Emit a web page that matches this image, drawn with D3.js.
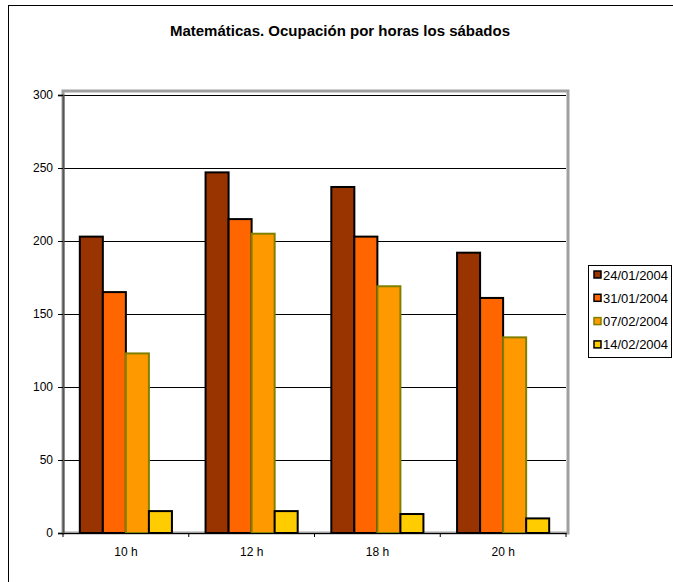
<!DOCTYPE html>
<html>
<head>
<meta charset="utf-8">
<script src="https://cdn.jsdelivr.net/npm/d3@7"></script>
<style>
	body { margin: 0; background: #fff; }
	text { font-family: "Liberation Sans", Arial, sans-serif; }
</style>
</head>
<body>
<div id="chart"></div>
<script>
//Chart data
	var hours = ["10 h", "12 h", "18 h", "20 h"];
	var dates = ["24/01/2004", "31/01/2004", "07/02/2004", "14/02/2004"];
	var sat24Jan = [203, 247, 237, 192];
	var sat31Jan = [165, 215, 203, 161];
	var sat07Feb = [123, 205, 169, 134];
	var sat14Feb = [15, 15, 13, 10];
	var yTicks = [0, 50, 100, 150, 200, 250, 300];

	var seriesValues = [sat24Jan, sat31Jan, sat07Feb, sat14Feb];
	var fills = ["#993300", "#FF6600", "#FF9900", "#FFCC00"];
	var strokes = ["#000", "#000", "#808000", "#000"];

	var W = 673, H = 582;
	var margin = {top: 95, left: 63, right: 107, bottom: 49};
	var w = W - margin.left - margin.right,
		h = H - margin.top - margin.bottom;

	var svg = d3.select("#chart").append("svg")
		.attr("width", W)
		.attr("height", H);

	//Outer chart frame (cropped at right and bottom)
	svg.append("rect")
		.attr("x", 8.5).attr("y", 5.5)
		.attr("width", W + 20).attr("height", H + 20)
		.attr("fill", "none").attr("stroke", "#000").attr("stroke-width", 1);

	//Title
	svg.append("text")
		.attr("x", 340).attr("y", 36)
		.attr("text-anchor", "middle")
		.style("font-size", "15px").style("font-weight", "bold")
		.text("Matemáticas. Ocupación por horas los sábados");

	var g = svg.append("g")
		.attr("transform", "translate(" + margin.left + "," + margin.top + ")");

	var x0 = d3.scaleBand().domain(hours).range([0, w]).paddingInner(0).paddingOuter(0);
	var x1 = d3.scaleBand().domain(d3.range(dates.length))
		.range([0, x0.bandwidth()]).paddingInner(0).paddingOuter(0.73);
	var y = d3.scaleLinear().domain([0, 300]).range([h, 0]);

	//Plot area grey frame
	g.append("rect")
		.attr("x", 0).attr("y", -4)
		.attr("width", w + 2).attr("height", h + 4)
		.attr("fill", "none").attr("stroke", "#a0a0a0").attr("stroke-width", 3);

	//Gridlines
	g.append("g").selectAll("line")
		.data(yTicks.filter(function(d) { return d > 0; }))
		.enter().append("line")
		.attr("x1", 0).attr("x2", w)
		.attr("y1", function(d) { return Math.round(y(d)) + 0.5; })
		.attr("y2", function(d) { return Math.round(y(d)) + 0.5; })
		.attr("stroke", "#000").attr("stroke-width", 1);

	//Bars
	var groups = g.append("g").selectAll("g")
		.data(hours)
		.enter().append("g")
		.attr("transform", function(d) { return "translate(" + x0(d) + ",0)"; });

	groups.selectAll("rect")
		.data(function(d, i) { return seriesValues.map(function(s, j) { return {s: j, v: s[i]}; }); })
		.enter().append("rect")
		.attr("x", function(d) { return x1(d.s); })
		.attr("y", function(d) { return y(d.v); })
		.attr("width", x1.bandwidth())
		.attr("height", function(d) { return h - y(d.v); })
		.attr("fill", function(d) { return fills[d.s]; })
		.attr("stroke", function(d) { return strokes[d.s]; })
		.attr("stroke-width", 2);

	//Y axis
	var yAxis = g.append("g")
		.call(d3.axisLeft(y).tickValues(yTicks).tickSize(5).tickPadding(5));
	yAxis.select(".domain").attr("stroke", "#555").attr("stroke-width", 2);
	yAxis.selectAll("text").style("font-size", "12px").attr("fill", "#000")
		.style("font-family", "'Liberation Sans', Arial, sans-serif");

	//X axis
	var xAxis = g.append("g")
		.attr("transform", "translate(0," + h + ")")
		.call(d3.axisBottom(x0).tickSize(0).tickPadding(14));
	xAxis.select(".domain").attr("stroke", "#000").attr("stroke-width", 1);
	xAxis.selectAll("text").style("font-size", "12px").attr("fill", "#000")
		.style("font-family", "'Liberation Sans', Arial, sans-serif");
	xAxis.selectAll(".sep")
		.data(d3.range(hours.length + 1))
		.enter().append("line")
		.attr("x1", function(d) { return d * x0.step(); })
		.attr("x2", function(d) { return d * x0.step(); })
		.attr("y1", 0).attr("y2", 4)
		.attr("stroke", "#000");

	//Legend
	var legend = svg.append("g").attr("transform", "translate(588,265)");
	legend.append("rect")
		.attr("x", 0.5).attr("y", 0.5)
		.attr("width", 83).attr("height", 92)
		.attr("fill", "#fff").attr("stroke", "#000");

	var items = legend.selectAll(".item")
		.data(dates)
		.enter().append("g")
		.attr("transform", function(d, i) { return "translate(6," + (10 + i * 23.3) + ")"; });
	items.append("rect")
		.attr("x", 0).attr("y", -4)
		.attr("width", 7).attr("height", 7)
		.attr("fill", function(d, i) { return fills[i]; })
		.attr("stroke", function(d, i) { return strokes[i]; })
		.attr("stroke-width", 1.5);
	items.append("text")
		.attr("x", 9).attr("y", 4.5)
		.style("font-size", "13px")
		.text(function(d) { return d; });
</script>
</body>
</html>
